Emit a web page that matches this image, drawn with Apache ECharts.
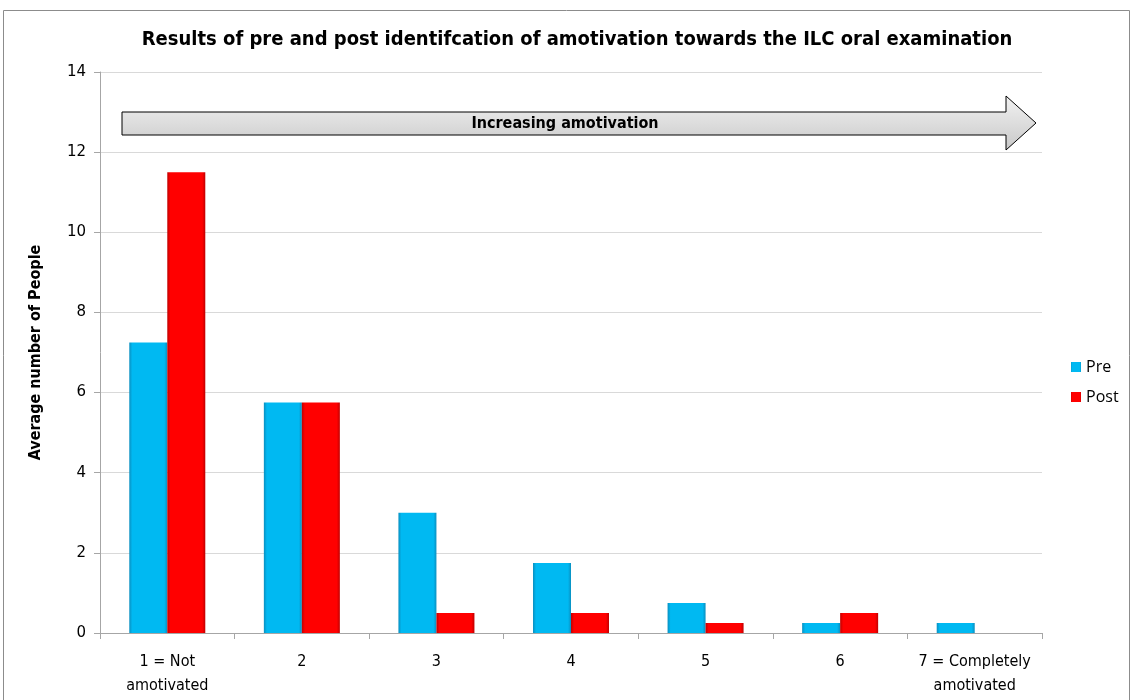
<!DOCTYPE html>
<html>
<head>
<meta charset="utf-8">
<script src="https://cdn.jsdelivr.net/npm/echarts@6/dist/echarts.min.js"></script>
<style>
  html, body { margin: 0; padding: 0; background: #fff; }
  #chart { width: 1134px; height: 700px; }
</style>
</head>
<body>
<div id="chart"></div>
<script>
// 数据
const categories = ["1 = Not\namotivated", "2", "3", "4", "5", "6", "7 = Completely\namotivated"];
const preValues = [7.25, 5.75, 3, 1.75, 0.75, 0.25, 0.25];
const postValues = [11.5, 5.75, 0.5, 0.5, 0.25, 0.5, 0];
const yTicks = [0, 2, 4, 6, 8, 10, 12, 14];

const narrow = '"Liberation Sans Narrow", "DejaVu Sans Condensed", "Liberation Sans", sans-serif';

function barColor(c1, c2) {
  return {
    type: "linear", x: 0, y: 0, x2: 1, y2: 0,
    colorStops: [
      { offset: 0, color: c2 },
      { offset: 0.08, color: c1 },
      { offset: 0.92, color: c1 },
      { offset: 1, color: c2 }
    ]
  };
}

const myChart = echarts.init(document.getElementById("chart"));
const option = {
  animation: false,
  color: ["#00b9f2", "#ff0000"],
  title: {
    left: 572,
    top: 25,
    textAlign: "center",
    text: "Results of pre and post identifcation of amotivation towards the ILC oral examination",
    textStyle: { fontFamily: narrow, fontWeight: "bold", fontSize: 20, color: "#000" }
  },
  grid: { left: 100, right: 92, top: 72, bottom: 67 },
  legend: {
    orient: "vertical",
    left: 1066,
    top: 354,
    itemWidth: 10,
    itemHeight: 10,
    itemGap: 14,
    icon: "rect",
    textStyle: { fontFamily: "Open Sans, sans-serif", fontSize: 16, color: "#000" },
    data: ["Pre", "Post"]
  },
  xAxis: {
    type: "category",
    data: categories,
    axisLine: { lineStyle: { color: "#a6a6a6" } },
    axisTick: { show: true, alignWithLabel: false, length: 6, lineStyle: { color: "#a6a6a6" } },
    axisLabel: { fontFamily: narrow, fontSize: 16, color: "#000", margin: 17, lineHeight: 24, interval: 0 }
  },
  yAxis: {
    type: "value",
    min: 0,
    max: 14,
    interval: 2,
    name: "Average number of People",
    nameLocation: "middle",
    nameGap: 56,
    nameTextStyle: { fontFamily: narrow, fontWeight: "bold", fontSize: 16, color: "#000" },
    axisLine: { show: true, lineStyle: { color: "#a6a6a6" } },
    axisTick: { show: true, length: 6, lineStyle: { color: "#a6a6a6" } },
    axisLabel: {
      fontFamily: "DejaVu Sans, sans-serif", fontSize: 15, color: "#000", margin: 14,
      formatter: v => (yTicks.indexOf(v) >= 0 ? String(v) : "")
    },
    splitLine: { lineStyle: { color: "#d9d9d9" } }
  },
  series: [
    {
      name: "Pre",
      type: "bar",
      data: preValues,
      barWidth: 38,
      barGap: "0%",
      itemStyle: { color: barColor("#00b9f2", "#0a8fc0") }
    },
    {
      name: "Post",
      type: "bar",
      data: postValues,
      barWidth: 38,
      barGap: "0%",
      itemStyle: { color: barColor("#ff0000", "#c00000") }
    }
  ],
  graphic: [
    {
      // 外框
      type: "rect",
      silent: true,
      shape: { x: 3.5, y: 10.5, width: 1126, height: 700 },
      style: { fill: "none", stroke: "#8c8c8c", lineWidth: 1 }
    },
    {
      // 箭头
      type: "polygon",
      silent: true,
      z: 10,
      shape: {
        points: [[122, 112], [1006, 112], [1006, 96], [1036, 123], [1006, 150], [1006, 135], [122, 135]]
      },
      style: {
        fill: {
          type: "linear", x: 0, y: 0, x2: 0, y2: 1,
          colorStops: [{ offset: 0, color: "#f2f2f2" }, { offset: 1, color: "#c8c8c8" }]
        },
        stroke: "#000",
        lineWidth: 1
      }
    },
    {
      type: "text",
      silent: true,
      z: 11,
      x: 565,
      y: 124,
      style: {
        text: "Increasing amotivation",
        fill: "#000",
        font: 'bold 16px "Liberation Sans Narrow", "DejaVu Sans Condensed", sans-serif',
        align: "center",
        verticalAlign: "middle"
      }
    }
  ]
};
myChart.clear();
myChart.setOption(option);
</script>
</body>
</html>
